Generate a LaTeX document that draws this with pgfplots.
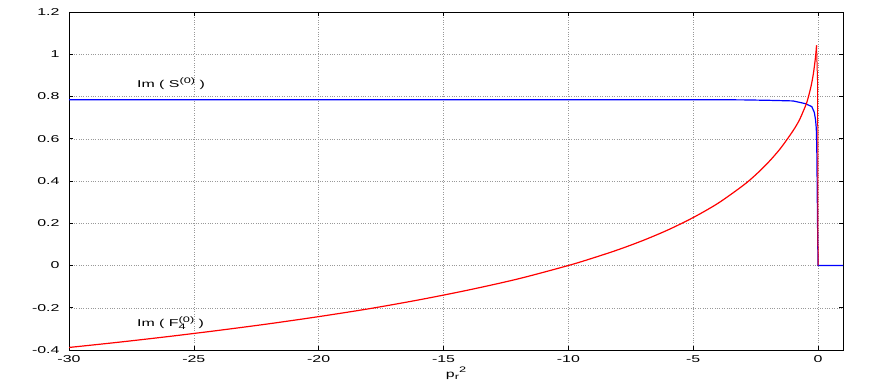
\documentclass[border=0pt]{standalone}
\usepackage{pgfplots}
\pgfplotsset{compat=1.18}
\usepackage{fontspec}
\setmainfont{Liberation Sans}[FakeStretch=1.6]
\newcommand\sups[1]{\raisebox{0.42em}{\fontsize{8}{9}\selectfont #1}}
\newcommand\subs[1]{\raisebox{-0.25em}{\fontsize{8}{9}\selectfont #1}}
\begin{document}
\begin{tikzpicture}
\useasboundingbox (-69bp,-32bp) rectangle (803bp,350bp);
\begin{axis}[
  at={(0,0)}, anchor=south west,
  scale only axis, width=774bp, height=338bp,
  xmin=-30, xmax=1, ymin=-0.4, ymax=1.2,
  xtick={-30,-25,-20,-15,-10,-5,0},
  ytick={-0.4,-0.2,0,0.2,0.4,0.6,0.8,1,1.2},
  yticklabel style={/pgf/number format/fixed,/pgf/number format/precision=1, xshift=-6bp},
  xticklabel style={yshift=-2bp},
  /pgf/number format/assume math mode=true,
  tick label style={font=\fontsize{10}{12}\selectfont},
  label style={font=\fontsize{10}{12}\selectfont},
  grid=major,
  major grid style={dotted, gray!80, line width=0.5pt},
  axis line style={black, line width=0.8pt},
  tick align=inside,
  major tick length=4bp,
  tick style={black, line width=0.6pt},
  xlabel={p\subs{r}\sups{2}},
  xlabel style={yshift=2bp},
]
\addplot[blue, line width=1.2bp] coordinates {
(-30,0.785) (-10,0.785) (-5,0.785) (-3,0.784) (-2,0.782) (-1,0.779)
(-0.5,0.766) (-0.25,0.752) (-0.15,0.725) (-0.1,0.69) (-0.07,0.65)
(-0.05,0.56) (-0.04,0.45) (-0.02,0.2) (0,0) (1,0)
};
\addplot[red, line width=1.2bp, smooth, tension=0.5] coordinates {
(-30,-0.388) (-28,-0.363) (-26,-0.336) (-24,-0.307) (-22,-0.276)
(-20,-0.242) (-18,-0.205) (-16,-0.163) (-14,-0.116) (-12,-0.063)
(-10,0.000) (-9,0.036) (-8,0.075) (-7,0.119) (-6,0.169) (-5,0.227)
(-4,0.295) (-3,0.379) (-2.5,0.429) (-2,0.487) (-1.5,0.555) (-1,0.638)
(-0.75,0.688) (-0.6,0.728) (-0.45,0.772) (-0.3,0.838) (-0.2,0.898)
(-0.13,0.958) (-0.09,1.0) (-0.06,1.042)
};
\addplot[red, line width=1.0bp] coordinates {(-0.06,1.042) (-0.015,0.85) (0,0)};
\node[anchor=base west, inner sep=0pt, font=\fontsize{10}{12}\selectfont] at (axis cs:-27.28,0.844) {Im ( S\sups{(0)} )};
\node[anchor=base west, inner sep=0pt, font=\fontsize{10}{12}\selectfont] at (axis cs:-27.28,-0.291) {Im ( F\rlap{\subs{4}}\sups{(0)} )};
\end{axis}
\end{tikzpicture}
\end{document}
